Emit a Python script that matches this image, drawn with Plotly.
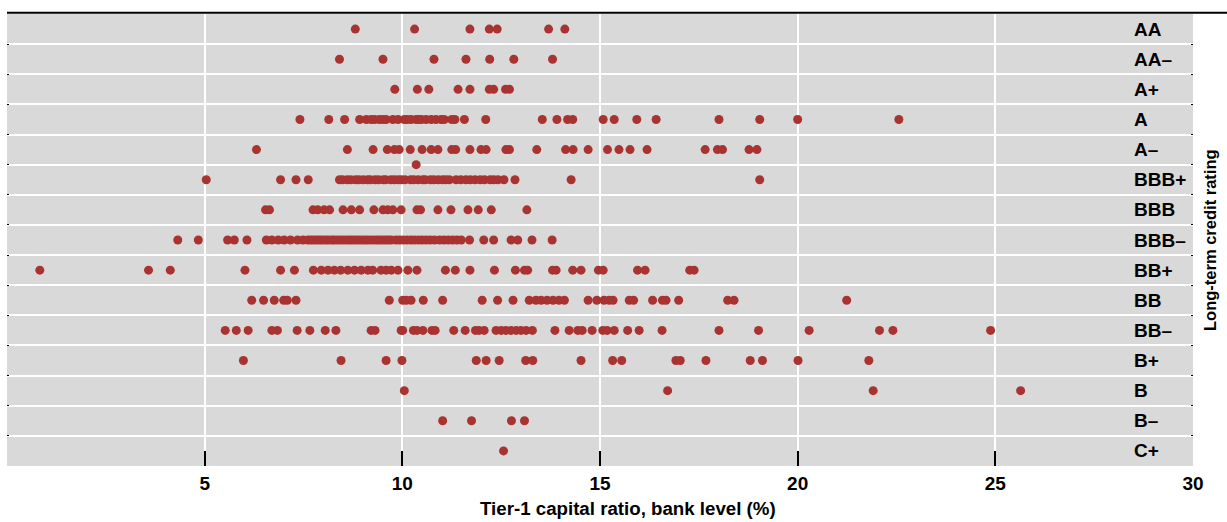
import plotly.graph_objects as go

# Long-term credit rating rows, top to bottom
ratings = ["AA", "AA–", "A+", "A", "A–", "BBB+", "BBB", "BBB–",
           "BB+", "BB", "BB–", "B+", "B", "B–", "C+"]

# Tier-1 capital ratio (%) of each bank, grouped by rating
aa = [8.81, 10.31, 11.71, 12.20, 12.40, 13.70, 14.11]
aa_minus = [8.41, 9.51, 10.80, 11.61, 12.21, 12.82, 13.80]
a_plus = [9.81, 10.38, 10.67, 11.41, 11.71, 12.20, 12.31, 12.61, 12.71]
a_mid = [7.41, 8.14, 8.54, 8.92, 9.09, 9.21, 9.30, 9.42, 9.51, 9.59, 9.76,
         9.89, 10.05, 10.12, 10.22, 10.35, 10.41, 10.48, 10.60, 10.73, 10.85,
         10.98, 11.06, 11.25, 11.33, 11.57, 12.11, 13.54, 13.91, 14.18, 14.31,
         15.08, 15.36, 15.93, 16.42, 18.01, 19.04, 20.00, 22.56]
a_minus = [6.31, 8.61, 9.26, 9.62, 9.80, 9.92, 10.20, 10.50, 10.73, 10.90,
           11.25, 11.35, 11.71, 11.99, 12.12, 12.62, 12.71, 13.40, 14.13, 14.32,
           14.70, 15.19, 15.48, 15.76, 16.19, 17.66, 17.97, 18.10, 18.77, 18.97]
bbb_plus = [5.04, 6.92, 7.31, 7.62, 8.41, 8.49, 8.61, 8.70, 8.82, 8.90, 9.01,
            9.12, 9.19, 9.31, 9.40, 9.52, 9.58, 9.71, 9.80, 9.90, 9.98, 10.07,
            10.21, 10.29, 10.40, 10.52, 10.58, 10.71, 10.80, 10.91, 11.02,
            11.10, 11.19, 11.36, 11.48, 11.61, 11.72, 11.84, 11.97, 12.08,
            12.22, 12.31, 12.42, 12.57, 12.85, 14.27, 19.04]
bbb = [6.54, 6.64, 7.74, 7.86, 8.02, 8.16, 8.50, 8.71, 8.92, 9.28, 9.51, 9.63,
       9.76, 9.97, 10.37, 10.46, 10.90, 11.23, 11.66, 11.92, 12.25, 13.15]
bbb_minus = [4.32, 4.84, 5.58, 5.75, 6.07, 6.56, 6.70, 6.86, 7.01, 7.17, 7.35,
             7.49, 7.61, 7.68, 7.75, 7.83, 7.90, 7.97, 8.05, 8.12, 8.21, 8.27,
             8.35, 8.42, 8.50, 8.58, 8.66, 8.73, 8.81, 8.88, 8.96, 9.04, 9.11,
             9.19, 9.27, 9.35, 9.42, 9.50, 9.58, 9.65, 9.72, 9.84, 9.93, 10.02,
             10.12, 10.22, 10.31, 10.41, 10.50, 10.60, 10.70, 10.81, 10.94,
             11.05, 11.16, 11.27, 11.38, 11.49, 11.70, 12.06, 12.31, 12.75,
             12.92, 13.28, 13.79]
bb_plus = [0.83, 3.58, 4.13, 6.02, 6.92, 7.27, 7.75, 7.95, 8.12, 8.28, 8.44,
           8.62, 8.79, 8.96, 9.13, 9.25, 9.46, 9.59, 9.72, 9.89, 10.14, 10.37,
           11.09, 11.34, 11.71, 12.33, 12.86, 13.09, 13.17, 13.80, 13.89, 14.31,
           14.52, 14.96, 15.08, 15.95, 16.14, 17.27, 17.38]
bb = [6.19, 6.49, 6.76, 7.00, 7.09, 7.31, 9.67, 10.01, 10.10, 10.22, 10.53,
      11.02, 12.02, 12.41, 12.80, 13.21, 13.38, 13.51, 13.66, 13.81, 13.96,
      14.10, 14.70, 14.92, 15.10, 15.23, 15.33, 15.74, 15.85, 16.33, 16.58,
      16.67, 16.99, 18.23, 18.39, 21.24]
bb_minus = [5.52, 5.80, 6.10, 6.70, 6.84, 7.34, 7.66, 8.05, 8.32, 9.21, 9.31,
            9.97, 10.01, 10.28, 10.37, 10.52, 10.75, 10.83, 11.30, 11.59, 11.85,
            11.94, 12.07, 12.37, 12.50, 12.62, 12.75, 12.88, 13.00, 13.13, 13.29,
            13.86, 14.22, 14.44, 14.55, 14.80, 15.07, 15.18, 15.36, 15.70, 15.99,
            16.57, 18.01, 19.01, 20.29, 22.07, 22.41, 24.88]
b_plus = [5.98, 8.45, 9.59, 9.99, 11.87, 12.12, 12.45, 13.12, 13.30, 14.52,
          15.32, 15.55, 16.92, 17.03, 17.68, 18.80, 19.11, 20.01, 21.80]
b_mid = [10.05, 16.71, 21.91, 25.64]
b_minus = [11.02, 11.75, 12.76, 13.09]
c_plus = [12.56]
# one bank rated between A– and BBB+
split_a_bbb = [10.35]

x_ticks = [0, 5, 10, 15, 20, 25, 30]
x_tick_text = ["", "5", "10", "15", "20", "25", "30"]

groups = [aa, aa_minus, a_plus, a_mid, a_minus, bbb_plus, bbb, bbb_minus,
          bb_plus, bb, bb_minus, b_plus, b_mid, b_minus, c_plus]

xs, ys = [], []
for row, values in enumerate(groups):
    xs.extend(values)
    ys.extend([row] * len(values))
split_row = ratings.index("A–") + 0.5
xs.extend(split_a_bbb)
ys.extend([split_row] * len(split_a_bbb))

FONT = "Liberation Sans, Arial, sans-serif"
DOT = "#A93331"

fig = go.Figure()
fig.add_trace(go.Scatter(
    x=xs, y=ys, mode="markers",
    marker=dict(color=DOT, size=9, line=dict(width=0)),
    hoverinfo="x", showlegend=False,
))

# rating names written inside the panel, near its right edge
for row, name in enumerate(ratings):
    fig.add_annotation(
        x=28.45, y=row, xref="x", yref="y", text=name, showarrow=False,
        xanchor="left", yanchor="middle",
        font=dict(family=FONT, size=19, color="black", weight="bold"),
    )

fig.add_annotation(
    x=1.0143, y=0.5, xref="paper", yref="paper",
    text="Long-term credit rating", textangle=-90, showarrow=False,
    xanchor="center", yanchor="middle",
    font=dict(family=FONT, size=16.5, color="black", weight="bold"),
)

fig.add_annotation(
    x=0.5236, y=-0.095, xref="paper", yref="paper",
    text="Tier-1 capital ratio, bank level (%)", showarrow=False,
    xanchor="center", yanchor="middle",
    font=dict(family=FONT, size=18.7, color="black", weight="bold"),
)

fig.add_shape(
    type="line", xref="paper", yref="paper",
    x0=0, x1=1.0287, y0=1.0025, y1=1.0025,
    line=dict(color="black", width=2),
)

fig.update_layout(
    width=1227, height=522,
    margin=dict(l=7, r=34, t=14, b=56),
    paper_bgcolor="white", plot_bgcolor="#D9D9D9",
    font=dict(family=FONT, size=19, color="black"),
    xaxis=dict(
        range=[0, 30], tickvals=x_ticks, ticktext=x_tick_text,
        ticks="inside", ticklen=15, tickwidth=1.5, tickcolor="black",
        showgrid=True, gridcolor="white", gridwidth=2,
        zeroline=False, showline=False,
        tickfont=dict(size=19, weight="bold"), ticklabelstandoff=4,
    ),
    yaxis=dict(
        range=[len(ratings) - 0.5, -0.5],
        tickvals=[k + 0.5 for k in range(len(ratings) - 1)],
        showticklabels=False, ticks="inside", ticklen=2, tickcolor="black",
        mirror="ticks",
        showgrid=True, gridcolor="white", gridwidth=2,
        zeroline=False, showline=False,
    ),
)

fig.write_html("out.html")
